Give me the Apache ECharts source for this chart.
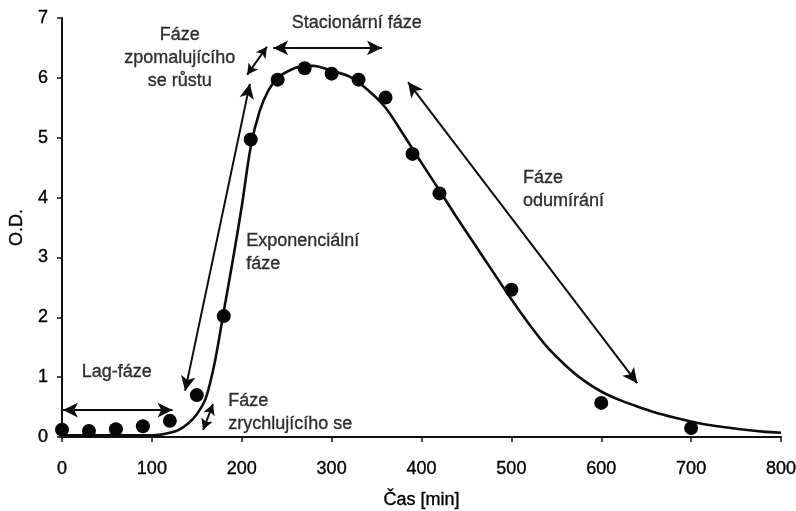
<!DOCTYPE html>
<html>
<head>
<meta charset="utf-8">
<script src="https://cdn.jsdelivr.net/npm/echarts@6/dist/echarts.min.js"></script>
<style>
html,body{margin:0;padding:0;background:#fff;}
#chart{width:796px;height:511px;}
</style>
</head>
<body>
<div id="chart"></div>
<script>
// Measured points (time in min, O.D.)
var pointTimes = [0, 30, 60, 90, 120, 150, 180, 210, 240, 270, 300, 330, 360, 390, 420, 500, 600, 700];
var pointOD    = [0.12, 0.10, 0.13, 0.18, 0.27, 0.70, 2.02, 4.97, 5.97, 6.16, 6.07, 5.97, 5.67, 4.73, 4.07, 2.46, 0.57, 0.15];

// Fitted curve
var curveTimes = [0, 20, 40, 60, 80, 100, 110, 120, 130, 140, 150, 160, 170, 180, 190, 200, 210, 220, 230, 240, 250, 260, 270, 280, 290, 300, 320, 340, 360, 380, 400, 420, 440, 460, 480, 500, 520, 540, 560, 580, 600, 620, 640, 660, 680, 700, 720, 740, 760, 780, 800];
var curveOD    = [0.03, 0.03, 0.03, 0.03, 0.03, 0.03, 0.04, 0.07, 0.12, 0.22, 0.38, 0.65, 1.25, 2.1, 2.95, 3.85, 4.85, 5.45, 5.8, 6.0, 6.1, 6.17, 6.2, 6.2, 6.17, 6.12, 6.02, 5.8, 5.5, 5.05, 4.58, 4.12, 3.65, 3.2, 2.75, 2.3, 1.88, 1.5, 1.2, 0.95, 0.76, 0.62, 0.51, 0.41, 0.33, 0.26, 0.2, 0.16, 0.12, 0.09, 0.07];

// Axis ticks
var xTicks = [0, 100, 200, 300, 400, 500, 600, 700, 800];
var yTicks = [0, 1, 2, 3, 4, 5, 6, 7];

// Double-headed arrows [x1, y1, x2, y2] in data units
var arrowLag   = [1, 0.45, 123, 0.45];
var arrowExp   = [137, 0.77, 209, 5.9];
var arrowAcc   = [157, 0.12, 168, 0.55];
var arrowDec   = [206, 6.05, 228, 6.52];
var arrowStat  = [235, 6.5, 356, 6.5];
var arrowDeath = [385, 5.93, 640, 0.9];

// Phase labels [x, y, text]
var labelDec   = [131, 6.33, 'Fáze\nzpomalujícího\nse růstu'];
var labelStat  = [328, 6.92, 'Stacionární fáze'];
var labelExp   = [205, 3.08, 'Exponenciální\nfáze'];
var labelLag   = [22, 1.08, 'Lag-fáze'];
var labelAcc   = [185, 0.41, 'Fáze\nzrychlujícího se'];
var labelDeath = [513, 4.13, 'Fáze\nodumírání'];

var FONT = '"Liberation Sans", Arial, sans-serif';
var TXT = '#000';
var FS = 18;

function arrowItem(a, size) {
  return [
    { coord: [a[0], a[1]], symbolSize: size },
    { coord: [a[2], a[3]], symbolSize: size }
  ];
}
var bigHead = [11, 15], smallHead = [9, 11];
var markLineData = [
  arrowItem(arrowLag, bigHead), arrowItem(arrowExp, bigHead),
  arrowItem(arrowAcc, smallHead), arrowItem(arrowDec, smallHead),
  arrowItem(arrowStat, bigHead), arrowItem(arrowDeath, bigHead)
];

var txtStyle = {
  fontFamily: FONT, fontSize: FS, color: TXT,
  textBorderColor: TXT, textBorderWidth: 0.35
};

function lbl(l, align) {
  return {
    value: [l[0], l[1]],
    label: Object.assign({
      show: true, formatter: l[2], position: 'inside',
      align: align, verticalAlign: 'middle', lineHeight: 23
    }, txtStyle)
  };
}
var labelData = [
  lbl(labelDec, 'center'), lbl(labelStat, 'center'), lbl(labelExp, 'left'),
  lbl(labelLag, 'left'), lbl(labelAcc, 'left'), lbl(labelDeath, 'left')
];

var chart = echarts.init(document.getElementById('chart'), null, { renderer: 'canvas' });
chart.setOption({
  animation: false,
  backgroundColor: '#fff',
  grid: { left: 62, right: 15, top: 18, bottom: 74, containLabel: false, outerBoundsMode: 'none' },
  xAxis: {
    type: 'value', min: xTicks[0], max: xTicks[xTicks.length - 1], interval: 100,
    name: 'Čas [min]', nameLocation: 'middle', nameGap: 54,
    nameTextStyle: txtStyle,
    axisLine: { show: true, onZero: false, lineStyle: { color: '#111', width: 2 } },
    axisTick: { show: true, length: 5, lineStyle: { color: '#111', width: 1.5 } },
    axisLabel: Object.assign({ margin: 23 }, txtStyle),
    splitLine: { show: false }
  },
  yAxis: {
    type: 'value', min: yTicks[0], max: yTicks[yTicks.length - 1], interval: 1,
    name: 'O.D.', nameLocation: 'middle', nameGap: 36, nameRotate: 90,
    nameTextStyle: txtStyle,
    axisLine: { show: true, onZero: false, lineStyle: { color: '#111', width: 2 } },
    axisTick: { show: true, length: 5, lineStyle: { color: '#111', width: 1.5 } },
    axisLabel: Object.assign({ margin: 14 }, txtStyle),
    splitLine: { show: false }
  },
  series: [
    {
      name: 'fit', type: 'line', smooth: 0.3, showSymbol: false, symbol: 'none',
      lineStyle: { color: '#0d0d0d', width: 2.6 },
      data: curveTimes.map(function (t, i) { return [t, curveOD[i]]; }),
      z: 3
    },
    {
      name: 'O.D.', type: 'scatter', symbol: 'circle', symbolSize: 14,
      itemStyle: { color: '#050505', opacity: 1 },
      data: pointTimes.map(function (t, i) { return [t, pointOD[i]]; }),
      z: 4
    },
    {
      name: 'arrows', type: 'line', data: [],
      markLine: {
        silent: true, animation: false,
        symbol: ['arrow', 'arrow'], symbolSize: bigHead,
        label: { show: false },
        lineStyle: { color: '#0d0d0d', width: 2, type: 'solid', opacity: 1 },
        emphasis: { disabled: true },
        data: markLineData
      }
    },
    {
      name: 'labels', type: 'scatter', symbolSize: 0, silent: true,
      itemStyle: { color: 'transparent' },
      data: labelData, z: 5
    }
  ]
});
</script>
</body>
</html>
